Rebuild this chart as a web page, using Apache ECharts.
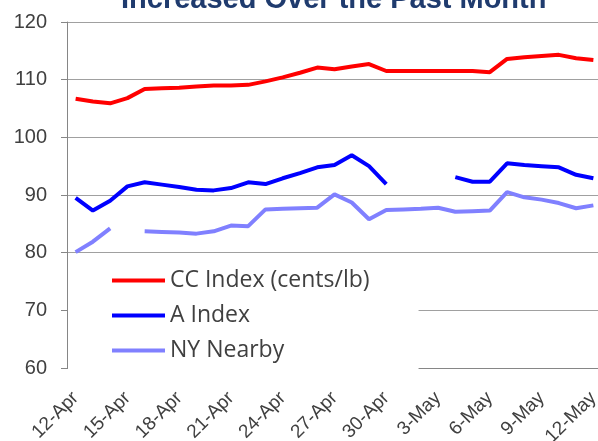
<!DOCTYPE html>
<html>
<head>
<meta charset="utf-8">
<script src="https://cdn.jsdelivr.net/npm/echarts@6/dist/echarts.min.js"></script>
<style>
	html, body { margin: 0; padding: 0; background: #fff; }
	#chart { width: 598px; height: 441px; }
</style>
</head>
<body>
<div id="chart"></div>
<script>
	// dates on the x axis (one per day, label on every 3rd)
	var dates = ['12-Apr', '13-Apr', '14-Apr', '15-Apr', '16-Apr', '17-Apr', '18-Apr', '19-Apr', '20-Apr', '21-Apr',
		'22-Apr', '23-Apr', '24-Apr', '25-Apr', '26-Apr', '27-Apr', '28-Apr', '29-Apr', '30-Apr', '1-May',
		'2-May', '3-May', '4-May', '5-May', '6-May', '7-May', '8-May', '9-May', '10-May', '11-May', '12-May'];

	var ccIndex = [106.7, 106.2, 105.9, 106.8, 108.4, 108.5, 108.6, 108.8, 109.0, 109.0,
		109.1, 109.7, 110.4, 111.2, 112.1, 111.8, 112.3, 112.7, 111.5, 111.5,
		111.5, 111.5, 111.5, 111.5, 111.3, 113.6, 113.9, 114.1, 114.3, 113.7, 113.4];

	var aIndex = [89.5, 87.3, 89.0, 91.5, 92.2, 91.8, 91.4, 90.9, 90.8, 91.2,
		92.2, 91.9, 92.9, 93.8, 94.8, 95.2, 96.9, 95.0, 91.9, null,
		null, null, 93.1, 92.3, 92.3, 95.5, 95.2, 95.0, 94.8, 93.5, 92.9];

	var nyNearby = [80.1, 81.9, 84.2, null, 83.7, 83.6, 83.5, 83.3, 83.7, 84.7,
		84.6, 87.5, 87.6, 87.7, 87.8, 90.1, 88.7, 85.8, 87.4, 87.5,
		87.6, 87.8, 87.1, 87.2, 87.3, 90.5, 89.6, 89.2, 88.6, 87.7, 88.2];

	var seriesNames = ['CC Index (cents/lb)', 'A Index', 'NY Nearby'];
	var seriesColors = ['#ff0000', '#0000ff', '#8080ff'];

	var yTicks = { min: 60, max: 120, step: 10 };

	function makeLine(i, values) {
		return {
			name: seriesNames[i],
			type: 'line',
			data: values,
			showSymbol: false,
			symbol: 'none',
			connectNulls: false,
			lineStyle: { color: seriesColors[i], width: 4 },
			itemStyle: { color: seriesColors[i] }
		};
	}

	var myChart = echarts.init(document.getElementById('chart'));
	var option = {
		animation: false,
		title: {
			text: 'Increased Over the Past Month',
			left: 121,
			top: -15,
			padding: 0,
			textStyle: {
				fontFamily: 'Liberation Sans',
				fontSize: 29,
				fontWeight: 'bold',
				color: '#1f3b6e'
			}
		},
		// legend sits inside the plot on a white box that hides the 70 gridline
		legend: {
			orient: 'vertical',
			left: 68,
			top: 262,
			padding: [6, 49, 6, 44],
			backgroundColor: '#ffffff',
			icon: 'rect',
			itemWidth: 53,
			itemHeight: 4,
			itemGap: 10,
			data: seriesNames,
			textStyle: {
				fontFamily: 'Open Sans',
				fontSize: 23,
				lineHeight: 25,
				color: '#404040',
				padding: [0, 0, 0, 0]
			}
		},
		grid: {
			left: 67,
			right: -4,
			top: 22,
			bottom: 73,
			outerBoundsMode: 'none',
			containLabel: false
		},
		xAxis: {
			type: 'category',
			data: dates,
			boundaryGap: true,
			axisLine: { lineStyle: { color: '#868686', width: 1 } },
			axisTick: { interval: 2, length: 6, lineStyle: { color: '#868686' } },
			axisLabel: {
				interval: 2,
				rotate: 45,
				margin: 27,
				fontFamily: 'Liberation Sans',
				fontSize: 19,
				color: '#404040'
			},
			splitLine: { show: false }
		},
		yAxis: {
			type: 'value',
			min: yTicks.min,
			max: yTicks.max,
			interval: yTicks.step,
			axisLine: { show: true, lineStyle: { color: '#868686', width: 1 } },
			axisTick: { show: true, length: 6, lineStyle: { color: '#868686' } },
			axisLabel: {
				margin: 20,
				fontFamily: 'Liberation Sans',
				fontSize: 20,
				color: '#404040'
			},
			splitLine: { lineStyle: { color: '#a0a0a0', width: 1 } }
		},
		series: [
			makeLine(0, ccIndex),
			makeLine(1, aIndex),
			makeLine(2, nyNearby)
		]
	};
	myChart.setOption(option);
</script>
</body>
</html>
